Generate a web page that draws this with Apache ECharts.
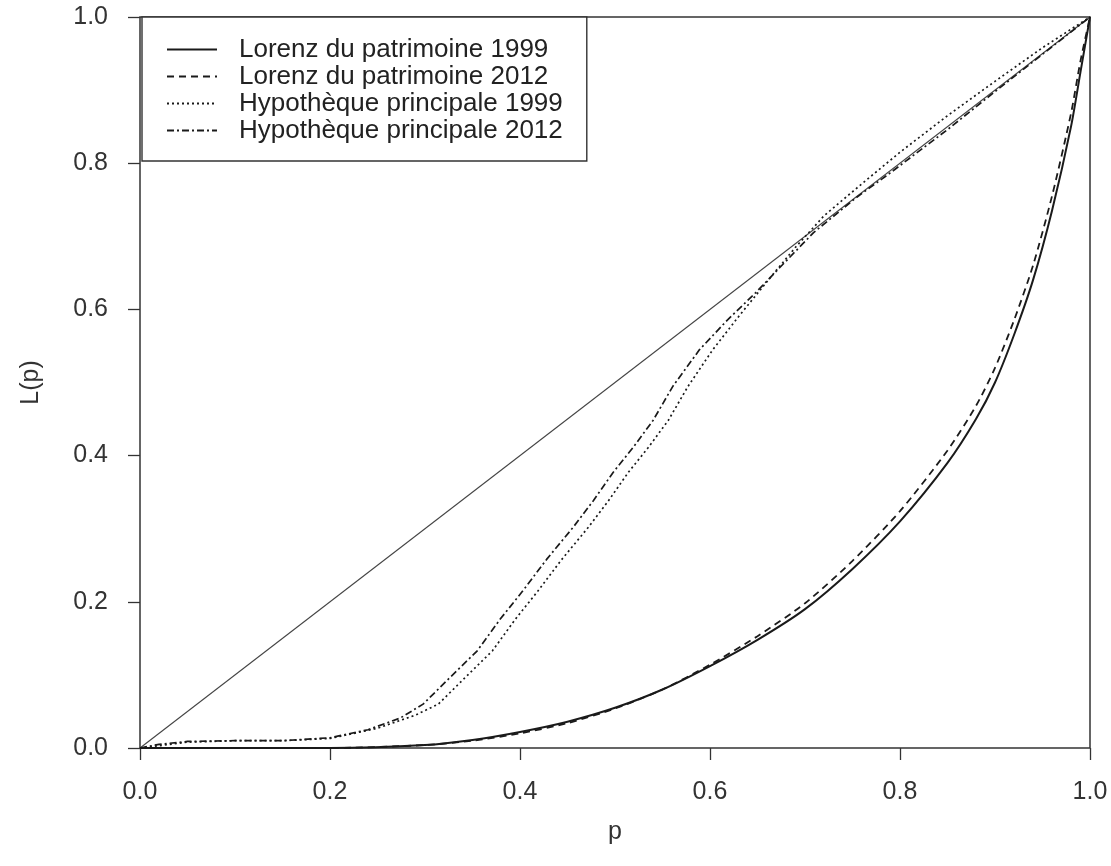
<!DOCTYPE html>
<html>
<head>
    <meta charset="UTF-8"/>
    <script src="https://cdn.jsdelivr.net/npm/echarts@6/dist/echarts.min.js"></script>
    <title>Courbes de Lorenz</title>
    <style>
        html, body { margin: 0; padding: 0; background: #fff; }
        #main { width: 1111px; height: 866px; }
    </style>
</head>
<body>
<div id="main"></div>
<script type="text/javascript">
    // courbes de Lorenz du patrimoine
    var pLorenz = [0, 0.1, 0.2, 0.3, 0.35, 0.4, 0.45, 0.5, 0.55, 0.6, 0.65, 0.7, 0.75, 0.8, 0.85, 0.88, 0.9, 0.92, 0.94, 0.96, 0.98, 0.99, 1.0];
    var lorenz1999 = [0, 0, 0, 0.004, 0.011, 0.022, 0.036, 0.055, 0.08, 0.112, 0.148, 0.19, 0.245, 0.31, 0.39, 0.45, 0.5, 0.565, 0.64, 0.735, 0.85, 0.925, 1.0];
    var lorenz2012 = [0, 0, 0, 0.004, 0.01, 0.02, 0.034, 0.054, 0.08, 0.114, 0.153, 0.198, 0.256, 0.324, 0.407, 0.468, 0.52, 0.585, 0.66, 0.755, 0.868, 0.94, 1.0];

    // hypothèque principale
    var pHyp2012 = [0, 0.02, 0.05, 0.1, 0.15, 0.2, 0.24, 0.274, 0.298, 0.326, 0.355, 0.379, 0.403, 0.428, 0.456, 0.477, 0.498, 0.519, 0.54, 0.561, 0.589, 0.618, 0.649, 0.674, 0.709, 0.754, 0.789, 0.85, 0.9, 0.95, 1.0];
    var hyp2012 = [0, 0.005, 0.009, 0.01, 0.01, 0.014, 0.025, 0.041, 0.06, 0.096, 0.133, 0.176, 0.215, 0.258, 0.302, 0.338, 0.377, 0.411, 0.448, 0.495, 0.545, 0.585, 0.624, 0.658, 0.705, 0.753, 0.786, 0.846, 0.898, 0.949, 1.0];
    var pHyp1999 = [0, 0.05, 0.1, 0.15, 0.2, 0.25, 0.29, 0.314, 0.342, 0.371, 0.395, 0.419, 0.444, 0.472, 0.493, 0.514, 0.535, 0.556, 0.577, 0.603, 0.63, 0.66, 0.69, 0.72, 0.76, 0.8, 0.85, 0.9, 0.95, 1.0];
    var hyp1999 = [0, 0.008, 0.01, 0.01, 0.013, 0.027, 0.045, 0.06, 0.096, 0.133, 0.176, 0.215, 0.258, 0.302, 0.338, 0.377, 0.411, 0.448, 0.495, 0.545, 0.59, 0.638, 0.685, 0.728, 0.772, 0.815, 0.865, 0.912, 0.958, 1.0];

    // droite d'égalité
    var pEgal = [0, 1];
    var egal = [0, 1];

    var ticks = [0, 0.2, 0.4, 0.6, 0.8, 1.0];
    var legendNames = ['Lorenz du patrimoine 1999', 'Lorenz du patrimoine 2012',
        'Hypothèque principale 1999', 'Hypothèque principale 2012'];

    function pairs(xs, ys) {
        var out = [];
        for (var i = 0; i < xs.length; i++) {
            out.push([xs[i], ys[i]]);
        }
        return out;
    }

    var font = '"Liberation Sans", Arial, sans-serif';
    var ink = '#1a1a1a';

    function axis(name, gap) {
        return {
            type: 'value',
            min: ticks[0],
            max: ticks[ticks.length - 1],
            interval: 0.2,
            name: name,
            nameLocation: 'middle',
            nameGap: gap,
            nameTextStyle: {fontFamily: font, fontSize: 25, color: '#333'},
            axisLine: {show: false},
            axisTick: {show: true, inside: false, length: 12, lineStyle: {color: '#333', width: 1.3}},
            axisLabel: {
                fontFamily: font, fontSize: 25, color: '#333', margin: 30,
                formatter: function (v) { return v.toFixed(1); }
            },
            splitLine: {show: false}
        };
    }

    var xAxis = axis('p', 72);
    xAxis.axisLabel.margin = 32;
    var yAxis = axis('L(p)', 96);
    yAxis.axisLabel.margin = 32;

    function curve(name, xs, ys, width, dash, smooth) {
        return {
            name: name, type: 'line', data: pairs(xs, ys),
            symbol: 'none', smooth: smooth,
            itemStyle: {color: ink},
            lineStyle: {color: ink, width: width, type: dash}
        };
    }

    var option = {
        animation: false,
        backgroundColor: '#fff',
        grid: {
            left: 140, right: 21, top: 17, bottom: 118,
            show: true, borderColor: '#333', borderWidth: 1.5, backgroundColor: 'transparent'
        },
        legend: {
            data: legendNames,
            orient: 'vertical',
            left: 142,
            top: 17,
            padding: [19, 24, 17, 24],
            itemWidth: 50,
            itemHeight: 14,
            itemGap: 0,
            backgroundColor: '#fff',
            borderColor: '#333',
            borderWidth: 1.4,
            borderRadius: 0,
            itemStyle: {opacity: 0},
            textStyle: {fontFamily: font, fontSize: 26, lineHeight: 27, color: '#222', padding: [0, 0, 0, 17]}
        },
        xAxis: xAxis,
        yAxis: yAxis,
        series: [
            {
                name: 'égalité', type: 'line', data: pairs(pEgal, egal), symbol: 'none', z: 1,
                lineStyle: {color: '#444', width: 1.1, type: 'solid'}
            },
            curve(legendNames[0], pLorenz, lorenz1999, 2, 'solid', 0.25),
            curve(legendNames[1], pLorenz, lorenz2012, 1.8, [7, 5], 0.25),
            curve(legendNames[2], pHyp1999, hyp1999, 1.7, [2, 3], false),
            curve(legendNames[3], pHyp2012, hyp2012, 1.7, [7, 3, 2, 3], false)
        ]
    };

    var myChart = echarts.init(document.getElementById('main'));
    myChart.setOption(option);
</script>
</body>
</html>
